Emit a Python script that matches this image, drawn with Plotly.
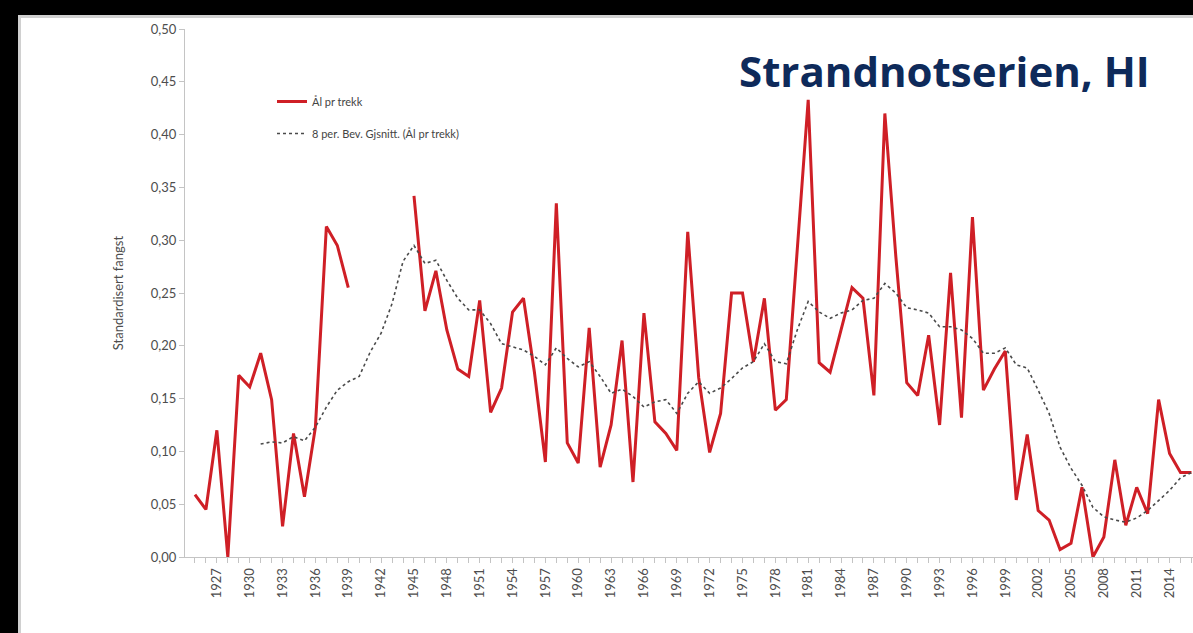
import plotly.graph_objects as go

years = list(range(1925, 2017))

aal_pr_trekk = [
    0.059, 0.045, 0.120, 0.000, 0.172, 0.161, 0.193, 0.149, 0.029, 0.117,   # 1925-1934
    0.057, 0.123, 0.313, 0.295, 0.255, None, None, None, None, None,        # 1935-1944
    0.342, 0.233, 0.271, 0.215, 0.178, 0.171, 0.243, 0.137, 0.160, 0.232,   # 1945-1954
    0.245, 0.175, 0.090, 0.335, 0.108, 0.089, 0.217, 0.085, 0.125, 0.205,   # 1955-1964
    0.071, 0.231, 0.128, 0.117, 0.101, 0.308, 0.170, 0.099, 0.136, 0.250,   # 1965-1974
    0.250, 0.185, 0.245, 0.139, 0.149, 0.290, 0.433, 0.184, 0.175, 0.215,   # 1975-1984
    0.255, 0.245, 0.153, 0.420, 0.285, 0.165, 0.153, 0.210, 0.125, 0.269,   # 1985-1994
    0.132, 0.322, 0.158, 0.178, 0.195, 0.054, 0.116, 0.044, 0.035, 0.007,   # 1995-2004
    0.013, 0.066, 0.000, 0.019, 0.092, 0.030, 0.066, 0.041, 0.149, 0.098,   # 2005-2014
    0.080, 0.080,                                                           # 2015-2016
]

moving_avg = [
    None, None, None, None, None, None, 0.107, 0.109, 0.108, 0.114,         # 1925-1934
    0.110, 0.123, 0.142, 0.158, 0.166, 0.171, 0.194, 0.212, 0.240, 0.280,   # 1935-1944
    0.295, 0.278, 0.281, 0.262, 0.245, 0.234, 0.234, 0.221, 0.202, 0.199,   # 1945-1954
    0.196, 0.190, 0.182, 0.198, 0.188, 0.180, 0.185, 0.171, 0.155, 0.159,   # 1955-1964
    0.152, 0.142, 0.147, 0.149, 0.136, 0.155, 0.166, 0.155, 0.160, 0.169,   # 1965-1974
    0.179, 0.185, 0.202, 0.185, 0.183, 0.215, 0.242, 0.232, 0.226, 0.231,   # 1975-1984
    0.234, 0.243, 0.245, 0.259, 0.250, 0.236, 0.234, 0.231, 0.218, 0.218,   # 1985-1994
    0.215, 0.207, 0.193, 0.193, 0.198, 0.182, 0.179, 0.158, 0.136, 0.104,   # 1995-2004
    0.084, 0.068, 0.047, 0.038, 0.035, 0.033, 0.037, 0.044, 0.054, 0.063,   # 2005-2014
    0.075, 0.080,                                                           # 2015-2016
]

y_ticks = [0.00, 0.05, 0.10, 0.15, 0.20, 0.25, 0.30, 0.35, 0.40, 0.45, 0.50]
x_tick_years = list(range(1927, 2017, 3))

title_text = "Strandnotserien, HI"
y_title = "Standardisert fangst"
name_main = "Ål pr trekk"
name_ma = "8 per. Bev. Gjsnitt. (Ål pr trekk)"

fig = go.Figure()
fig.add_trace(go.Scatter(
    x=years, y=aal_pr_trekk, mode="lines", name=name_main,
    line=dict(color="#cf1f26", width=3), connectgaps=False,
    legendgroup="a",
))
fig.add_trace(go.Scatter(
    x=years, y=moving_avg, mode="lines", name=name_ma,
    line=dict(color="#4a4a4a", width=1.6, dash="dot"), connectgaps=True,
    legendgroup="b",
))

L, T, W, H = 185, 29, 1193, 633
PW = W - L
PH = 557 - T

def px(xpix):
    return (xpix - L) / PW

def py(ypix):
    return (557 - ypix) / PH

fig.update_layout(
    width=W, height=H,
    margin=dict(l=L, r=0, t=T, b=H - 557, pad=0),
    paper_bgcolor="white", plot_bgcolor="white",
    separators=", ",
    font=dict(family="Lato, 'Open Sans', sans-serif", color="#4d4d4d"),
    showlegend=True,
    legend=dict(
        x=px(272), y=py(87), xanchor="left", yanchor="top",
        bgcolor="rgba(0,0,0,0)", font=dict(size=11, color="#444444"),
        tracegroupgap=13, traceorder="grouped",
    ),
    xaxis=dict(
        range=[1924.09, 2016.14], showgrid=False, zeroline=False,
        showline=True, linecolor="#c4c4c4", linewidth=1,
        tickmode="array", tickvals=x_tick_years, ticktext=[str(v) for v in x_tick_years],
        ticks="outside", ticklen=5, tickcolor="#c4c4c4", tickangle=-90,
        tickfont=dict(size=13, color="#4d4d4d"),
        minor=dict(dtick=1, tick0=1925, ticks="outside", ticklen=5, tickcolor="#c4c4c4"),
    ),
    yaxis=dict(
        range=[0, 0.5], showgrid=False, zeroline=False,
        showline=True, linecolor="#c4c4c4", linewidth=1,
        tickmode="array", tickvals=y_ticks, tickformat=".2f",
        ticks="outside", ticklen=5, tickcolor="#c4c4c4",
        tickfont=dict(size=13, color="#4d4d4d"),
        title=dict(text=y_title, font=dict(size=13, color="#4d4d4d"), standoff=24),
    ),
    annotations=[dict(
        text="<b>" + title_text + "</b>", x=px(1152), y=py(70),
        xref="paper", yref="paper", xanchor="right", yanchor="middle",
        showarrow=False, font=dict(family="Open Sans", size=42, color="#0e2a5a"),
    )],
    shapes=[
        dict(type="rect", xref="paper", yref="paper", x0=px(-5), x1=px(1200),
             y0=py(15), y1=py(-5), fillcolor="black", line=dict(width=0), layer="above"),
        dict(type="rect", xref="paper", yref="paper", x0=px(-5), x1=px(18),
             y0=py(640), y1=py(-5), fillcolor="black", line=dict(width=0), layer="above"),
        dict(type="rect", xref="paper", yref="paper", x0=px(18), x1=px(21),
             y0=py(640), y1=py(15), fillcolor="#d0d0d0", line=dict(width=0), layer="above"),
        dict(type="rect", xref="paper", yref="paper", x0=px(18), x1=px(1200),
             y0=py(18), y1=py(15), fillcolor="#d0d0d0", line=dict(width=0), layer="above"),
    ],
)

fig.write_html(
    "out.html",
    config={"displayModeBar": False},
    post_script="document.body.style.margin='0';document.body.style.overflow='hidden';",
)
